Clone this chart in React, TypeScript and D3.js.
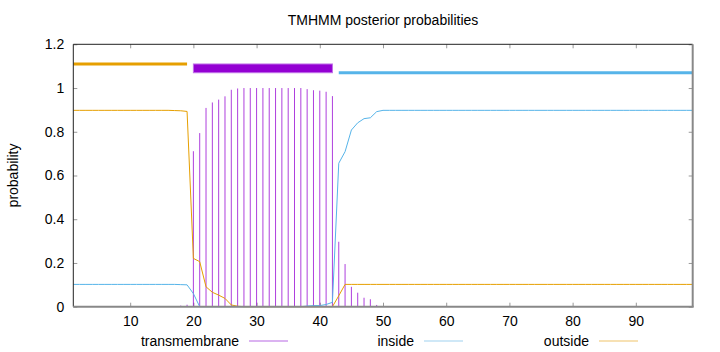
import React, { useEffect, useRef } from 'react';
import * as d3 from 'd3';

// posterior probabilities per residue (1..99)
const tmProb = [
    0, 0, 0, 0, 0, 0, 0, 0, 0, 0,
    0, 0, 0, 0, 0, 0, 0.003, 0.005, 0.009, 0.711,
    0.794, 0.909, 0.934, 0.947, 0.962, 0.992, 0.998, 1, 1, 1,
    1, 1, 1, 1, 1, 1, 1, 0.995, 0.99, 0.988,
    0.983, 0.963, 0.297, 0.195, 0.091, 0.064, 0.041, 0.034, 0.008, 0,
    0, 0, 0, 0, 0, 0, 0, 0, 0, 0,
    0, 0, 0, 0, 0, 0, 0, 0, 0, 0,
    0, 0, 0, 0, 0, 0, 0, 0, 0, 0,
    0, 0, 0, 0, 0, 0, 0, 0, 0, 0,
    0, 0, 0, 0, 0, 0, 0, 0, 0,
];

const insideProb = [
    0.102, 0.102, 0.102, 0.102, 0.102, 0.102, 0.102, 0.102, 0.102, 0.102,
    0.102, 0.102, 0.102, 0.102, 0.102, 0.102, 0.102, 0.101, 0.1, 0.06,
    0, 0, 0, 0, 0, 0, 0, 0, 0, 0,
    0, 0, 0, 0, 0, 0, 0, 0.003, 0.005, 0.005,
    0.01, 0.02, 0.656, 0.709, 0.808, 0.841, 0.86, 0.864, 0.892, 0.898,
    0.898, 0.898, 0.898, 0.898, 0.898, 0.898, 0.898, 0.898, 0.898, 0.898,
    0.898, 0.898, 0.898, 0.898, 0.898, 0.898, 0.898, 0.898, 0.898, 0.898,
    0.898, 0.898, 0.898, 0.898, 0.898, 0.898, 0.898, 0.898, 0.898, 0.898,
    0.898, 0.898, 0.898, 0.898, 0.898, 0.898, 0.898, 0.898, 0.898, 0.898,
    0.898, 0.898, 0.898, 0.898, 0.898, 0.898, 0.898, 0.898, 0.898,
];

const outsideProb = [
    0.898, 0.898, 0.898, 0.898, 0.898, 0.898, 0.898, 0.898, 0.898, 0.898,
    0.898, 0.898, 0.898, 0.898, 0.898, 0.898, 0.897, 0.896, 0.893, 0.221,
    0.206, 0.091, 0.066, 0.053, 0.038, 0.008, 0.002, 0, 0, 0,
    0, 0, 0, 0, 0, 0, 0, 0, 0, 0,
    0, 0, 0.05, 0.102, 0.102, 0.102, 0.102, 0.102, 0.102, 0.102,
    0.102, 0.102, 0.102, 0.102, 0.102, 0.102, 0.102, 0.102, 0.102, 0.102,
    0.102, 0.102, 0.102, 0.102, 0.102, 0.102, 0.102, 0.102, 0.102, 0.102,
    0.102, 0.102, 0.102, 0.102, 0.102, 0.102, 0.102, 0.102, 0.102, 0.102,
    0.102, 0.102, 0.102, 0.102, 0.102, 0.102, 0.102, 0.102, 0.102, 0.102,
    0.102, 0.102, 0.102, 0.102, 0.102, 0.102, 0.102, 0.102, 0.102,
];

// predicted topology segments
const segTypes = ['outside', 'transmembrane', 'inside'];
const segStarts = [1, 20, 43];
const segEnds = [19, 42, 99];

const xTicks = [10, 20, 30, 40, 50, 60, 70, 80, 90];
const yTicks = [0, 0.2, 0.4, 0.6, 0.8, 1, 1.2];

const colors = { transmembrane: '#9400d3', inside: '#56b4e9', outside: '#e69f00' };
const legendColors = { transmembrane: '#b868e4', inside: '#9fd2ef', outside: '#f0c46a' };
const font = '"Liberation Sans", Arial, sans-serif';

const App = () => {
    const svgRef = useRef(null);

    useEffect(() => {
        const svg = d3.select(svgRef.current);
        svg.selectAll('*').remove();

        const left = 73.3, right = 692.7, top = 44.3, bottom = 306.7;
        const residues = tmProb.map((_, i) => i + 1);

        const x = d3.scaleLinear().domain([1, 99]).range([left, right]);
        const y = d3.scaleLinear().domain([0, 1.2]).range([bottom, top]);

        // title + y label
        svg.append('text').attr('x', (left + right) / 2).attr('y', 25)
            .attr('text-anchor', 'middle').style('font', `14px ${font}`)
            .text('TMHMM posterior probabilities');
        svg.append('text').attr('transform', `translate(18,${(top + bottom) / 2}) rotate(-90)`)
            .attr('text-anchor', 'middle').style('font', `14px ${font}`)
            .text('probability');

        // axes (gnuplot style: inward, mirrored ticks)
        const styleAxis = (g) => {
            g.select('.domain').remove();
            g.selectAll('line').attr('stroke', '#999');
            g.selectAll('text').style('font', `14px ${font}`).attr('fill', '#000');
        };
        svg.append('g').attr('transform', `translate(0,${bottom})`)
            .call(d3.axisBottom(x).tickValues(xTicks).tickSize(-4).tickPadding(9))
            .call(styleAxis);
        svg.append('g').attr('transform', `translate(0,${top})`)
            .call(d3.axisTop(x).tickValues(xTicks).tickSize(-4).tickFormat(() => ''))
            .call(styleAxis);
        svg.append('g').attr('transform', `translate(${left},0)`)
            .call(d3.axisLeft(y).tickValues(yTicks).tickSize(-4).tickPadding(9).tickFormat(d3.format('~g')))
            .call(styleAxis);
        svg.append('g').attr('transform', `translate(${right},0)`)
            .call(d3.axisRight(y).tickValues(yTicks).tickSize(-4).tickFormat(() => ''))
            .call(styleAxis);

        // transmembrane as impulses
        svg.append('g').selectAll('line')
            .data(residues)
            .enter()
            .append('line')
            .attr('x1', d => x(d)).attr('x2', d => x(d))
            .attr('y1', y(0)).attr('y2', d => y(tmProb[d - 1]))
            .attr('stroke', colors.transmembrane).attr('stroke-width', 1).attr('opacity', 0.75);

        const line = (vals) => d3.line().x((_, i) => x(i + 1)).y(d => y(d))(vals);
        svg.append('path').attr('d', line(insideProb)).attr('fill', 'none')
            .attr('stroke', colors.inside).attr('stroke-width', 1);
        svg.append('path').attr('d', line(outsideProb)).attr('fill', 'none')
            .attr('stroke', colors.outside).attr('stroke-width', 1);

        // topology bars
        segTypes.forEach((t, i) => {
            if (t === 'transmembrane') {
                svg.append('rect')
                    .attr('x', x(segStarts[i])).attr('y', y(1.11))
                    .attr('width', x(segEnds[i]) - x(segStarts[i]))
                    .attr('height', y(1.07) - y(1.11))
                    .attr('fill', colors.transmembrane).attr('stroke', '#c070e8').attr('stroke-width', 1);
            } else {
                const lvl = t === 'outside' ? 1.11 : 1.07;
                svg.append('line')
                    .attr('x1', x(segStarts[i])).attr('x2', x(segEnds[i]))
                    .attr('y1', y(lvl)).attr('y2', y(lvl))
                    .attr('stroke', colors[t]).attr('stroke-width', 3);
            }
        });

        // border
        svg.append('line').attr('x1', left).attr('x2', right).attr('y1', top).attr('y2', top)
            .attr('stroke', '#222').attr('stroke-width', 1);
        svg.append('line').attr('x1', left).attr('x2', left).attr('y1', top).attr('y2', bottom)
            .attr('stroke', '#222').attr('stroke-width', 1);
        svg.append('line').attr('x1', left).attr('x2', right + 1).attr('y1', bottom).attr('y2', bottom)
            .attr('stroke', '#888').attr('stroke-width', 2);
        svg.append('line').attr('x1', right).attr('x2', right).attr('y1', top).attr('y2', bottom)
            .attr('stroke', '#888').attr('stroke-width', 2);

        // legend
        const legendItems = ['transmembrane', 'inside', 'outside'];
        const legendEnds = [239, 414, 589];
        legendItems.forEach((name, i) => {
            svg.append('text').attr('x', legendEnds[i]).attr('y', 346)
                .attr('text-anchor', 'end').style('font', `14px ${font}`).text(name);
            svg.append('line').attr('x1', legendEnds[i] + 10).attr('x2', legendEnds[i] + 49)
                .attr('y1', 341).attr('y2', 341)
                .attr('stroke', legendColors[name]).attr('stroke-width', 1.2);
        });
    }, []);

    return (
        <div style={{ position: 'absolute', left: 0, top: 0 }}>
            <svg ref={svgRef} width={720} height={352} style={{ display: 'block', background: '#fff' }} />
        </div>
    );
};

export default App;
